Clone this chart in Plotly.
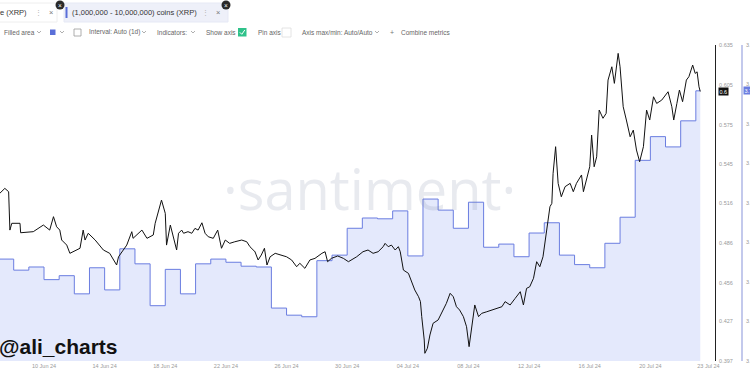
import plotly.graph_objects as go

# ---------------- data ----------------
PRICE_TIME = [
    "2024-06-07 02:00", "2024-06-07 10:00", "2024-06-07 16:00", "2024-06-07 18:00", "2024-06-07 21:00",
    "2024-06-08 10:00", "2024-06-08 11:00", "2024-06-09 07:00", "2024-06-09 23:00", "2024-06-10 09:00",
    "2024-06-10 15:00", "2024-06-10 20:00", "2024-06-11 01:00", "2024-06-11 04:00", "2024-06-11 12:00",
    "2024-06-11 17:00", "2024-06-12 09:00", "2024-06-12 14:00", "2024-06-12 17:00", "2024-06-12 22:00",
    "2024-06-13 09:00", "2024-06-13 22:00", "2024-06-14 08:00", "2024-06-14 19:00", "2024-06-14 22:00",
    "2024-06-15 11:00", "2024-06-15 19:00", "2024-06-15 21:00", "2024-06-16 11:00", "2024-06-16 19:00",
    "2024-06-17 05:00", "2024-06-17 08:00", "2024-06-17 18:00", "2024-06-18 00:00", "2024-06-18 02:00",
    "2024-06-18 08:00", "2024-06-18 18:00", "2024-06-18 21:00", "2024-06-19 02:00", "2024-06-19 05:00",
    "2024-06-19 12:00", "2024-06-19 18:00", "2024-06-19 23:00", "2024-06-20 04:00", "2024-06-20 10:00",
    "2024-06-20 15:00", "2024-06-20 20:00", "2024-06-21 04:00", "2024-06-21 11:00", "2024-06-21 15:00",
    "2024-06-21 17:00", "2024-06-21 23:00", "2024-06-22 06:00", "2024-06-22 14:00", "2024-06-23 01:00",
    "2024-06-23 09:00", "2024-06-23 14:00", "2024-06-23 22:00", "2024-06-24 03:00", "2024-06-24 08:00",
    "2024-06-24 13:00", "2024-06-24 17:00", "2024-06-24 22:00", "2024-06-25 06:00", "2024-06-25 16:00",
    "2024-06-26 00:00", "2024-06-26 08:00", "2024-06-26 16:00", "2024-06-26 21:00", "2024-06-27 05:00",
    "2024-06-27 13:00", "2024-06-27 21:00", "2024-06-28 08:00", "2024-06-28 13:00", "2024-06-28 17:00",
    "2024-06-28 23:00", "2024-06-29 09:00", "2024-06-29 18:00", "2024-06-30 02:00", "2024-06-30 15:00",
    "2024-07-01 01:00", "2024-07-01 09:00", "2024-07-01 17:00", "2024-07-02 01:00", "2024-07-02 09:00",
    "2024-07-02 12:00", "2024-07-02 17:00", "2024-07-02 22:00", "2024-07-03 04:00", "2024-07-03 09:00",
    "2024-07-03 12:00", "2024-07-03 17:00", "2024-07-04 01:00", "2024-07-04 06:00", "2024-07-04 11:00",
    "2024-07-04 17:00", "2024-07-04 20:00", "2024-07-04 22:00", "2024-07-05 02:00", "2024-07-05 03:00",
    "2024-07-05 07:00", "2024-07-05 11:00", "2024-07-05 16:00", "2024-07-06 00:00", "2024-07-06 08:00",
    "2024-07-06 13:00", "2024-07-06 19:00", "2024-07-07 00:00", "2024-07-07 05:00", "2024-07-07 10:00",
    "2024-07-07 16:00", "2024-07-07 21:00", "2024-07-08 01:00", "2024-07-08 05:00", "2024-07-08 10:00",
    "2024-07-08 16:00", "2024-07-08 21:00", "2024-07-09 05:00", "2024-07-09 13:00", "2024-07-09 21:00",
    "2024-07-10 05:00", "2024-07-10 10:00", "2024-07-10 18:00", "2024-07-11 02:00", "2024-07-11 10:00",
    "2024-07-11 15:00", "2024-07-11 20:00", "2024-07-12 01:00", "2024-07-12 07:00", "2024-07-12 12:00",
    "2024-07-12 17:00", "2024-07-12 22:00", "2024-07-13 04:00", "2024-07-13 09:00", "2024-07-13 12:00",
    "2024-07-13 14:00", "2024-07-13 18:00", "2024-07-13 22:00", "2024-07-14 03:00", "2024-07-14 09:00",
    "2024-07-14 17:00", "2024-07-14 22:00", "2024-07-15 03:00", "2024-07-15 11:00", "2024-07-15 14:00",
    "2024-07-15 19:00", "2024-07-16 00:00", "2024-07-16 03:00", "2024-07-16 07:00", "2024-07-16 11:00",
    "2024-07-16 15:00", "2024-07-16 21:00", "2024-07-17 02:00", "2024-07-17 05:00", "2024-07-17 11:00",
    "2024-07-17 15:00", "2024-07-17 19:00", "2024-07-17 21:00", "2024-07-18 00:00", "2024-07-18 05:00",
    "2024-07-18 10:00", "2024-07-18 16:00", "2024-07-18 21:00", "2024-07-19 02:00", "2024-07-19 07:00",
    "2024-07-19 13:00", "2024-07-19 18:00", "2024-07-19 23:00", "2024-07-20 05:00", "2024-07-20 10:00",
    "2024-07-20 18:00", "2024-07-21 04:00", "2024-07-21 10:00", "2024-07-21 13:00", "2024-07-21 18:00",
    "2024-07-21 22:00", "2024-07-22 03:00", "2024-07-22 09:00", "2024-07-22 13:00", "2024-07-22 19:00",
    "2024-07-22 23:00", "2024-07-23 02:00", "2024-07-23 05:00", "2024-07-23 07:00",
]
PRICE_XRP = [
    0.5233, 0.5270, 0.5245, 0.4956, 0.5007, 0.5007, 0.4936, 0.4944, 0.4994, 0.4956,
    0.5057, 0.4981, 0.4956, 0.4881, 0.4843, 0.4781, 0.4819, 0.4956, 0.4881, 0.4932,
    0.4881, 0.4806, 0.4781, 0.4693, 0.4755, 0.4843, 0.4944, 0.4894, 0.4956, 0.4894,
    0.4919, 0.5007, 0.5182, 0.5082, 0.4843, 0.4994, 0.4806, 0.4932, 0.4956, 0.4932,
    0.4944, 0.4932, 0.4969, 0.4956, 0.5011, 0.4932, 0.4906, 0.4894, 0.4956, 0.4843,
    0.4819, 0.4881, 0.4856, 0.4868, 0.4881, 0.4868, 0.4831, 0.4793, 0.4731, 0.4768,
    0.4819, 0.4693, 0.4755, 0.4781, 0.4768, 0.4755, 0.4731, 0.4680, 0.4706, 0.4668,
    0.4731, 0.4743, 0.4781, 0.4793, 0.4718, 0.4743, 0.4761, 0.4743, 0.4718, 0.4755,
    0.4793, 0.4806, 0.4781, 0.4793, 0.4831, 0.4856, 0.4831, 0.4843, 0.4806, 0.4831,
    0.4793, 0.4655, 0.4630, 0.4567, 0.4505, 0.4454, 0.4417, 0.4304, 0.4128, 0.4028,
    0.4066, 0.4166, 0.4254, 0.4279, 0.4354, 0.4404, 0.4480, 0.4454, 0.4379, 0.4354,
    0.4304, 0.4228, 0.4078, 0.4228, 0.4392, 0.4304, 0.4329, 0.4341, 0.4354, 0.4367,
    0.4379, 0.4417, 0.4392, 0.4442, 0.4492, 0.4392, 0.4517, 0.4529, 0.4593, 0.4718,
    0.4680, 0.4755, 0.4981, 0.5132, 0.5157, 0.5383, 0.5584, 0.5308, 0.5207, 0.5283,
    0.5308, 0.5245, 0.5308, 0.5371, 0.5245, 0.5333, 0.5433, 0.5672, 0.5433, 0.5508,
    0.5860, 0.5798, 0.5835, 0.6086, 0.6186, 0.6061, 0.6212, 0.6287, 0.6186, 0.5885,
    0.5785, 0.5659, 0.5709, 0.5559, 0.5471, 0.5584, 0.5860, 0.5785, 0.5960, 0.5910,
    0.5935, 0.5998, 0.5885, 0.5785, 0.5910, 0.6011, 0.5923, 0.6086, 0.6111, 0.6199,
    0.6136, 0.6148, 0.6035, 0.6000,
]

HOLD_DAYS = [
    "2024-06-07", "2024-06-08", "2024-06-09", "2024-06-10", "2024-06-11", "2024-06-12", "2024-06-13",
    "2024-06-14", "2024-06-15", "2024-06-16", "2024-06-17", "2024-06-18", "2024-06-19", "2024-06-20",
    "2024-06-21", "2024-06-22", "2024-06-23", "2024-06-24", "2024-06-25", "2024-06-26", "2024-06-27",
    "2024-06-28", "2024-06-29", "2024-06-30", "2024-07-01", "2024-07-02", "2024-07-03", "2024-07-04",
    "2024-07-05", "2024-07-06", "2024-07-07", "2024-07-08", "2024-07-09", "2024-07-10", "2024-07-11",
    "2024-07-12", "2024-07-13", "2024-07-14", "2024-07-15", "2024-07-16", "2024-07-17", "2024-07-18",
    "2024-07-19", "2024-07-20", "2024-07-21", "2024-07-22", "2024-07-23",
]
# supply held by 1M-10M XRP addresses (billion XRP)
HOLD_XRP_B = [
    3.529, 3.515, 3.519, 3.503, 3.508, 3.485, 3.518, 3.490, 3.542, 3.523, 3.470, 3.516,
    3.485, 3.523, 3.529, 3.525, 3.520, 3.519, 3.467, 3.458, 3.456, 3.527, 3.534, 3.568,
    3.581, 3.580, 3.590, 3.533, 3.605, 3.591, 3.568, 3.601, 3.544, 3.548, 3.532, 3.562,
    3.575, 3.534, 3.522, 3.518, 3.549, 3.582, 3.654, 3.684, 3.671, 3.704, 3.742,
]

PRICE_TICK_LABELS = ["0.397", "0.427", "0.456", "0.486", "0.516", "0.545", "0.575", "0.605", "0.635"]
HOLD_TICK_LABELS = ["3.40B", "3.45B", "3.50B", "3.55B", "3.60B", "3.65B", "3.70B", "3.75B", "3.80B"]
DATE_TICKS = ["2024-06-10", "2024-06-14", "2024-06-18", "2024-06-22", "2024-06-26", "2024-06-30",
              "2024-07-04", "2024-07-08", "2024-07-12", "2024-07-16", "2024-07-20", "2024-07-23 20:00"]
DATE_TICK_LABELS = ["10 Jun 24", "14 Jun 24", "18 Jun 24", "22 Jun 24", "26 Jun 24", "30 Jun 24",
                    "04 Jul 24", "08 Jul 24", "12 Jul 24", "16 Jul 24", "20 Jul 24", "23 Jul 24"]

# ---------------- layout helpers (pixels -> paper) ----------------
W, H = 750, 375
ML, MR, MT, MB = 0, 8, 45, 14
PW, PH = W - ML - MR, H - MT - MB


def fx(px):
    return (px - ML) / PW


def fy(py):
    return (H - MB - py) / PH


FONT = "Arial, Liberation Sans, sans-serif"
BLUE = "#6a7de0"
FILL = "#e4e9fc"

fig = go.Figure()

hold_x = HOLD_DAYS + [PRICE_TIME[-1]]
hold_y = HOLD_XRP_B + [HOLD_XRP_B[-1]]
fig.add_trace(go.Scatter(
    x=hold_x, y=hold_y, mode="lines", line=dict(color=BLUE, width=1, shape="hv"),
    fill="tozeroy", fillcolor=FILL, yaxis="y", hoverinfo="skip", showlegend=False,
))
fig.add_trace(go.Scatter(
    x=PRICE_TIME, y=PRICE_XRP, mode="lines", line=dict(color="#111111", width=1),
    yaxis="y2", hoverinfo="skip", showlegend=False,
))

axis_tick_font = dict(family=FONT, size=5.5, color="#9a9a9a")

fig.update_layout(
    width=W, height=H,
    margin=dict(l=ML, r=MR, t=MT, b=MB, pad=0, autoexpand=False),
    paper_bgcolor="white", plot_bgcolor="white",
    showlegend=False,
    xaxis=dict(
        domain=[0, fx(715)], range=["2024-06-07 02:20", "2024-07-24 06:20"], automargin=False,
        showgrid=False, zeroline=False, showline=False, ticks="",
        tickvals=DATE_TICKS, ticktext=DATE_TICK_LABELS, tickfont=axis_tick_font,
    ),
    yaxis=dict(
        range=[3.40, 3.80], anchor="free", position=1.0, side="right", automargin=False,
        showgrid=False, zeroline=False, showline=True, linecolor="#c3c9ec", linewidth=2,
        ticks="", tickvals=[float(t[:-1]) for t in HOLD_TICK_LABELS], ticktext=HOLD_TICK_LABELS,
        tickfont=axis_tick_font, ticklabelstandoff=2,
    ),
    yaxis2=dict(
        range=[0.397, 0.635], overlaying="y", anchor="x", side="right", automargin=False,
        showgrid=False, zeroline=False, showline=True, linecolor="#222222", linewidth=1,
        ticks="", tickvals=[float(t) for t in PRICE_TICK_LABELS], ticktext=PRICE_TICK_LABELS,
        tickfont=axis_tick_font, ticklabelstandoff=2,
    ),
)

ann = []
shapes = []


def text(px, py, s, size=6.5, color="#666666", anchor="left", family=FONT, **kw):
    ann.append(dict(x=fx(px), y=fy(py), xref="paper", yref="paper", text=s, showarrow=False,
                    xanchor=anchor, yanchor="middle", font=dict(family=family, size=size, color=color), **kw))


def chevron(cx, cy, color="#9a9a9a"):
    shapes.append(dict(type="path", xref="paper", yref="paper",
                       path=f"M {fx(cx-2)} {fy(cy-1)} L {fx(cx)} {fy(cy+1)} L {fx(cx+2)} {fy(cy-1)}",
                       line=dict(color=color, width=0.8)))


def rect(x0, y0, x1, y1, fill=None, line=None, lw=1):
    shapes.append(dict(type="rect", xref="paper", yref="paper", x0=fx(x0), x1=fx(x1), y0=fy(y1), y1=fy(y0),
                       fillcolor=fill or "rgba(0,0,0,0)", line=dict(color=line or "rgba(0,0,0,0)", width=lw)))


# watermark
text(369, 188, "·santiment·", size=56, color="rgba(120,132,160,0.17)", anchor="center", family="Open Sans")
# author tag
text(-3, 346, "<b>@ali_charts</b>", size=21, color="#111111", family="Liberation Sans, Arial")

# ---- toolbar row 1 (metric tabs) ----
rect(-5, 3, 57, 22, fill="white", line="#eeeeee")
text(29, 13, "Price (XRP)", size=7.5, color="#333333", anchor="right")
text(38, 13, "⋮", size=7, color="#b0b0b0", anchor="center")
text(51, 13, "×", size=7.5, color="#777777", anchor="center")
rect(64, 3, 228, 22, fill="#eef0f9", line="#e6e9f5")
rect(65.5, 7, 67.5, 18, fill="#5a6fd8")
text(70, 13, "(1,000,000 - 10,000,000) coins (XRP)", size=7.5, color="#333333")
text(205, 13, "⋮", size=7, color="#b0b0b0", anchor="center")
text(218, 13, "×", size=7.5, color="#777777", anchor="center")
for cx in (60, 226):
    shapes.append(dict(type="circle", xref="paper", yref="paper", x0=fx(cx - 4.5), x1=fx(cx + 4.5),
                       y0=fy(5 + 4.5), y1=fy(5 - 4.5), fillcolor="#2a2a2a", line=dict(width=0)))
    text(cx, 5, "×", size=6.5, color="white", anchor="center")

# ---- toolbar row 2 (settings) ----
RY = 32
text(2, RY, "Filled area", size=6.5)
chevron(39, RY)
rect(50, 29.5, 55.5, 35, fill="#5a6fd8")
chevron(62, RY)
rect(74, 29, 81, 36, line="#9a9a9a", lw=0.8)
text(87, RY, "Interval: Auto (1d)", size=6.5)
chevron(144, RY)
text(155, RY, "Indicators:", size=6.5)
chevron(193, RY)
text(204, RY, "Show axis", size=6.5)
rect(238, 28, 246.5, 36.5, fill="#2fc28a")
shapes.append(dict(type="path", xref="paper", yref="paper",
                   path=f"M {fx(239.8)} {fy(32.3)} L {fx(241.8)} {fy(34.3)} L {fx(244.8)} {fy(30)}",
                   line=dict(color="white", width=1)))
text(256, RY, "Pin axis", size=6.5)
rect(282, 28, 291, 37, fill="white", line="#dddddd", lw=0.8)
text(300, RY, "Axis max/min: Auto/Auto", size=6.5)
chevron(377, RY)
text(392, RY, "+", size=7, color="#777777", anchor="center")
text(399, RY, "Combine metrics", size=6.5)

# ---- current value badges ----
ann.append(dict(x=fx(718), y=PRICE_XRP[-1], xref="paper", yref="y2", text="0.6", showarrow=False,
                xanchor="left", yanchor="middle", bgcolor="#111111", borderpad=0.5,
                font=dict(family=FONT, size=5.5, color="white")))
ann.append(dict(x=fx(743.5), y=HOLD_XRP_B[-1], xref="paper", yref="y", text="3.742B", showarrow=False,
                xanchor="left", yanchor="middle", bgcolor="#6a7de0", borderpad=0.5,
                font=dict(family=FONT, size=5.5, color="white")))

fig.update_layout(annotations=ann, shapes=shapes)
fig.write_html("out.html")
